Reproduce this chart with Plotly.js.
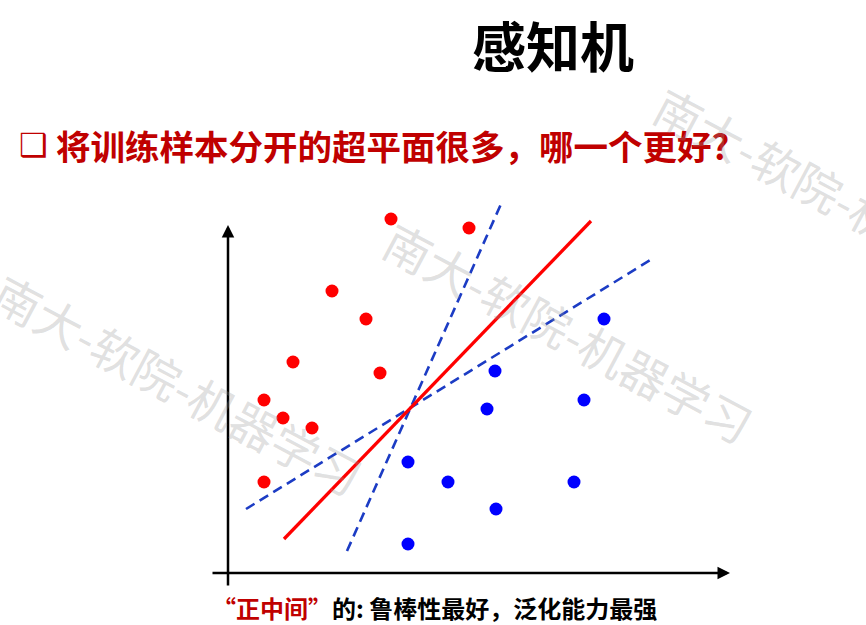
<!DOCTYPE html>
<html>
<head>
<meta charset="utf-8">
<script src="https://cdn.plot.ly/plotly-3.0.1.min.js"></script>
<style>html,body{margin:0;padding:0;background:#fff;}#chart{width:866px;height:625px;}</style>
</head>
<body>
<div id="chart"></div>
<script>
// Class +1 (red) samples
const redX = [16.3, 24.1, 10.4, 13.8, 6.5, 15.2, 3.6, 5.5, 8.4, 3.6];
const redY = [35.4, 34.5, 28.2, 25.4, 21.1, 20.0, 17.3, 15.5, 14.5, 9.1];
// Class -1 (blue) samples
const blueX = [37.6, 26.7, 35.6, 25.9, 18.0, 22.0, 34.6, 26.8, 18.0];
const blueY = [25.4, 20.2, 17.3, 16.4, 11.1, 9.1, 9.1, 6.4, 2.9];
// Separating hyperplanes
const bestLineX = [5.6, 36.3];
const bestLineY = [3.4, 35.2];
const steepLineX = [11.9, 27.3];
const steepLineY = [2.2, 36.9];
const flatLineX = [1.8, 42.4];
const flatLineY = [6.4, 31.4];
// Axis arrows (origin, ends)
const axisXEnd = 50.2, axisXStart = -1.7;
const axisYEnd = 34.8, axisYStart = -1.4;

const titleText = '感知机';
const questionText = '将训练样本分开的超平面很多，哪一个更好?';
const captionRed = '“正中间”';
const captionRest = '的: 鲁棒性最好，泛化能力最强';
const watermark = '南大-软院-机器学习';

const CJK = '"Noto Sans CJK SC", "Noto Sans", sans-serif';

const traces = [
  {x: flatLineX, y: flatLineY, mode: 'lines', line: {color: '#1c3cc4', width: 2.6, dash: '10px,6px'}, hoverinfo: 'skip'},
  {x: steepLineX, y: steepLineY, mode: 'lines', line: {color: '#1c3cc4', width: 2.6, dash: '10px,6px'}, hoverinfo: 'skip'},
  {x: bestLineX, y: bestLineY, mode: 'lines', line: {color: '#ff0000', width: 3.3}, hoverinfo: 'skip'},
  {x: redX, y: redY, mode: 'markers', marker: {color: '#ff0000', size: 13}},
  {x: blueX, y: blueY, mode: 'markers', marker: {color: '#0000ff', size: 13}}
];

const wmFont = {family: CJK, size: 47, color: 'rgba(150,150,150,0.3)'};
const W = 866, H = 625;
const px = v => v / W, py = v => 1 - v / H;

const annotations = [
  // axes
  {x: axisXEnd, y: 0, ax: axisXStart, ay: 0, xref: 'x', yref: 'y', axref: 'x', ayref: 'y',
   showarrow: true, arrowhead: 2, arrowsize: 1, arrowwidth: 2.5, arrowcolor: '#000', text: ''},
  {x: 0, y: axisYEnd, ax: 0, ay: axisYStart, xref: 'x', yref: 'y', axref: 'x', ayref: 'y',
   showarrow: true, arrowhead: 2, arrowsize: 1, arrowwidth: 2.5, arrowcolor: '#000', text: ''},
  // title
  {x: px(553), y: py(45), xref: 'paper', yref: 'paper', xanchor: 'center', yanchor: 'middle',
   showarrow: false, text: titleText, font: {family: CJK, size: 54, color: '#000', weight: 'bold'}},
  // bullet
  {x: px(17), y: py(145), xref: 'paper', yref: 'paper', xanchor: 'left', yanchor: 'middle',
   showarrow: false, text: '❑', font: {family: '"DejaVu Sans", sans-serif', size: 32, color: '#c00000'}},
  // question
  {x: px(54), y: py(145), xref: 'paper', yref: 'paper', xanchor: 'left', yanchor: 'middle',
   showarrow: false, text: questionText, font: {family: CJK, size: 34.5, color: '#c00000', weight: 'bold'}},
  // caption
  {x: px(210), y: py(607), xref: 'paper', yref: 'paper', xanchor: 'left', yanchor: 'middle',
   showarrow: false, text: '<span style="color:#c00000">' + captionRed + '</span>' + captionRest,
   font: {family: CJK, size: 24, color: '#000', weight: 'bold'}},
  // watermarks
  {x: px(178), y: py(384), xref: 'paper', yref: 'paper', xanchor: 'center', yanchor: 'middle',
   showarrow: false, text: watermark, textangle: 28, font: wmFont},
  {x: px(569), y: py(331), xref: 'paper', yref: 'paper', xanchor: 'center', yanchor: 'middle',
   showarrow: false, text: watermark, textangle: 28, font: wmFont},
  {x: px(839), y: py(197), xref: 'paper', yref: 'paper', xanchor: 'center', yanchor: 'middle',
   showarrow: false, text: watermark, textangle: 28, font: wmFont}
];

const layout = {
  width: W, height: H,
  margin: {l: 0, r: 0, t: 0, b: 0, pad: 0},
  paper_bgcolor: '#fff', plot_bgcolor: '#fff',
  showlegend: false,
  xaxis: {range: [-22.8, 63.8], visible: false, fixedrange: true},
  yaxis: {range: [-5.2, 57.3], visible: false, fixedrange: true},
  annotations: annotations
};

Plotly.newPlot('chart', traces, layout, {staticPlot: true, displayModeBar: false});
</script>
</body>
</html>
